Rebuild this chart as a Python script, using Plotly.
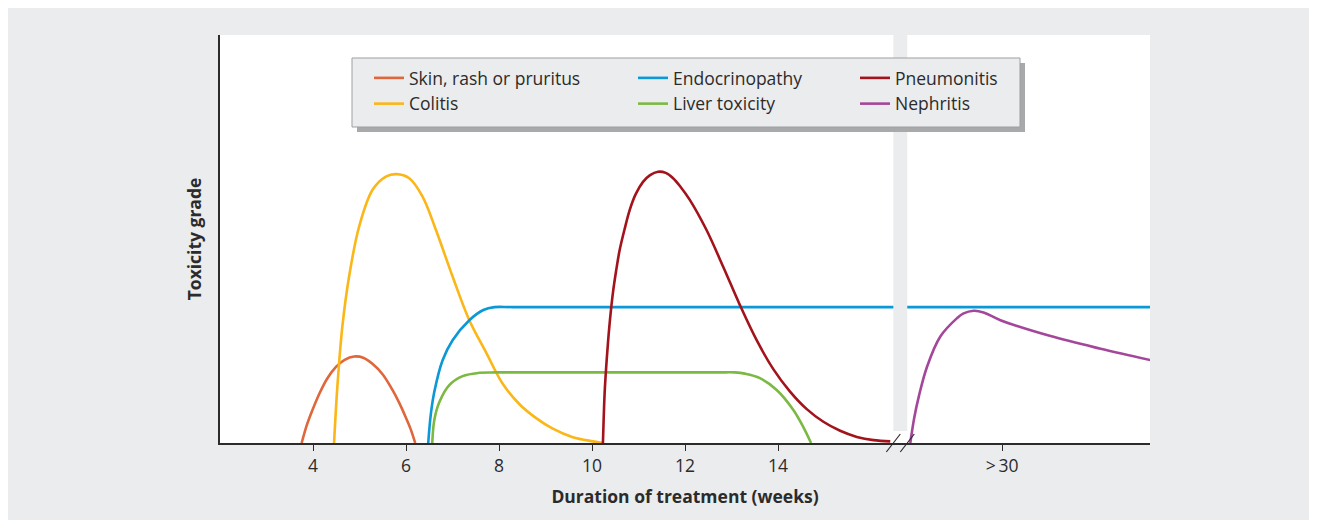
import plotly.graph_objects as go

# ---------------- data (x: weeks on display scale, y: relative toxicity grade) -------------
skin_x = [3.756, 3.87, 3.985, 4.129, 4.30, 4.489, 4.68, 4.884, 5.08, 5.278, 5.50, 5.709,
          5.86, 5.998, 6.10, 6.198]
skin_y = [0.0, 0.45, 0.80, 1.19, 1.57, 1.86, 2.04, 2.12, 2.09, 1.94, 1.68, 1.30,
          0.97, 0.62, 0.34, 0.0]

colitis_x = [4.453, 4.524, 4.631, 4.776, 4.991, 5.278, 5.567, 5.795, 6.069, 6.356, 6.644,
             7.002, 7.362, 7.722, 8.080, 8.440, 8.799, 9.157, 9.588, 10.019, 10.235]
colitis_y = [0.0, 1.38, 2.85, 4.08, 5.30, 6.20, 6.53, 6.59, 6.49, 6.04, 5.22,
             4.08, 3.01, 2.22, 1.45, 0.95, 0.61, 0.35, 0.14, 0.04, 0.0]

endo_x = [6.478, 6.532, 6.608, 6.787, 7.002, 7.362, 7.664, 7.901, 8.3, 12.0, 16.0, 20.0, 22.0]
endo_y = [0.0, 0.69, 1.25, 2.03, 2.52, 3.01, 3.26, 3.33, 3.33, 3.33, 3.33, 3.33, 3.33]

liver_x = [6.565, 6.608, 6.716, 6.931, 7.218, 7.578, 7.901, 8.3, 10.5, 12.7, 13.073, 13.289,
           13.612, 13.972, 14.330, 14.545, 14.711]
liver_y = [0.0, 0.56, 1.00, 1.42, 1.64, 1.72, 1.73, 1.73, 1.73, 1.73, 1.73, 1.70,
           1.59, 1.30, 0.81, 0.39, 0.0]

pneu_x = [10.235, 10.250, 10.272, 10.304, 10.343, 10.390, 10.450, 10.519, 10.595, 10.703,
          10.810, 10.940, 11.097, 11.241, 11.420, 11.586, 11.744, 11.910, 12.103, 12.463,
          12.821, 13.181, 13.541, 13.899, 14.259, 14.619, 14.976, 15.336, 15.696, 16.054,
          16.414]
pneu_y = [0.0, 0.56, 1.23, 1.84, 2.45, 3.06, 3.68, 4.22, 4.73, 5.25,
          5.71, 6.10, 6.40, 6.56, 6.65, 6.62, 6.49, 6.27, 5.96, 5.22,
          4.32, 3.38, 2.52, 1.81, 1.26, 0.83, 0.52, 0.30, 0.15, 0.07,
          0.04]

nephr_x = [16.845, 16.93, 17.03, 17.205, 17.491, 17.851, 17.98, 18.209, 18.42, 18.784,
           19.862, 20.940, 22.017]
nephr_y = [0.0, 0.62, 1.15, 1.87, 2.61, 3.06, 3.17, 3.24, 3.20, 3.01,
           2.62, 2.31, 2.03]

tick_vals = [4, 6, 8, 10, 12, 14, 18.82]
tick_text = ["4", "6", "8", "10", "12", "14", ">\u200930"]

series_names = ["Skin, rash or pruritus", "Colitis", "Endocrinopathy",
                "Liver toxicity", "Pneumonitis", "Nephritis"]
series_colors = ["#e0673b", "#fbb617", "#0a98d6", "#7bb943", "#a3131b", "#a4479b"]
series_legend = ["legend", "legend", "legend2", "legend2", "legend3", "legend3"]

BREAK_X0, BREAK_X1 = 16.48, 16.78
X_RANGE = [2, 22]
Y_RANGE = [0, 10]

PANEL = "#ebeced"
TXT = "#2b2b2b"
FONT = "Open Sans"
FS = 17.5

# ---------------- figure ---------------------------------------------------------------------
fig = go.Figure()
xs = [skin_x, colitis_x, endo_x, liver_x, pneu_x, nephr_x]
ys = [skin_y, colitis_y, endo_y, liver_y, pneu_y, nephr_y]
for i, (x, y) in enumerate(zip(xs, ys)):
    fig.add_trace(go.Scatter(
        x=x, y=y, mode="lines", name=series_names[i],
        line=dict(color=series_colors[i], width=2.6, shape="spline", smoothing=1.0),
        legend=series_legend[i], legendgroup=series_names[i], hoverinfo="skip"))

W, H = 1301, 512          # page body has an 8 px margin
OFF = 8
ML, MR, MT, MB = 212, 159, 27, 77
PW, PH = W - ML - MR, H - MT - MB


def px_x(p):
    """screen x (page pixels) -> paper x"""
    return (p - OFF - ML) / PW


def px_y(p):
    """screen y (page pixels) -> paper y"""
    return (H - MB - (p - OFF)) / PH


def dx(v):
    return (v - X_RANGE[0]) / (X_RANGE[1] - X_RANGE[0])


shapes = [
    # axis break band
    dict(type="rect", xref="x", yref="paper", x0=BREAK_X0, x1=BREAK_X1,
         y0=12 / PH, y1=1, fillcolor=PANEL, line=dict(width=0), layer="above"),
    # legend shadow and box
    dict(type="rect", xref="paper", yref="paper", x0=px_x(357), x1=px_x(1025),
         y0=px_y(132), y1=px_y(63), fillcolor="#a7a9ab", line=dict(width=0), layer="above"),
    dict(type="rect", xref="paper", yref="paper", x0=px_x(352), x1=px_x(1020),
         y0=px_y(127), y1=px_y(58), fillcolor=PANEL, line=dict(color="#9d9fa1", width=1),
         layer="above"),
]
# break slashes on the x axis
for cx in (dx(BREAK_X0), dx(BREAK_X1)):
    shapes.append(dict(type="line", xref="paper", yref="paper",
                       x0=cx - 7 / PW, x1=cx + 7 / PW, y0=-9 / PH, y1=9 / PH,
                       line=dict(color=TXT, width=1.2), layer="above"))

legend_common = dict(bgcolor="rgba(0,0,0,0)", borderwidth=0, orientation="v",
                     font=dict(family=FONT, size=FS, color=TXT), itemwidth=30,
                     tracegroupgap=0, yanchor="top", xanchor="left", y=px_y(60),
                     itemclick=False, itemdoubleclick=False)

fig.update_layout(
    width=W, height=H,
    margin=dict(l=ML, r=MR, t=MT, b=MB, autoexpand=False),
    paper_bgcolor=PANEL, plot_bgcolor="white",
    font=dict(family=FONT, color=TXT, size=FS),
    showlegend=True,
    legend=dict(legend_common, x=px_x(369)),
    legend2=dict(legend_common, x=px_x(633)),
    legend3=dict(legend_common, x=px_x(855)),
    shapes=shapes,
    xaxis=dict(range=X_RANGE, tickvals=tick_vals, ticktext=tick_text,
               ticks="outside", ticklen=6, tickwidth=1, tickcolor=TXT,
               showline=True, linecolor=TXT, linewidth=1.5, showgrid=False, zeroline=False,
               tickfont=dict(family=FONT, size=FS, color=TXT),
               title=dict(text="Duration of treatment (weeks)", standoff=15,
                          font=dict(family=FONT, size=FS, color=TXT, weight="bold"))),
    yaxis=dict(range=Y_RANGE, showticklabels=False, ticks="", showline=True,
               linecolor=TXT, linewidth=1.5, showgrid=False, zeroline=False,
               title=dict(text="Toxicity grade", standoff=12,
                          font=dict(family=FONT, size=FS, color=TXT, weight="bold"))),
)

fig.write_html("out.html")
